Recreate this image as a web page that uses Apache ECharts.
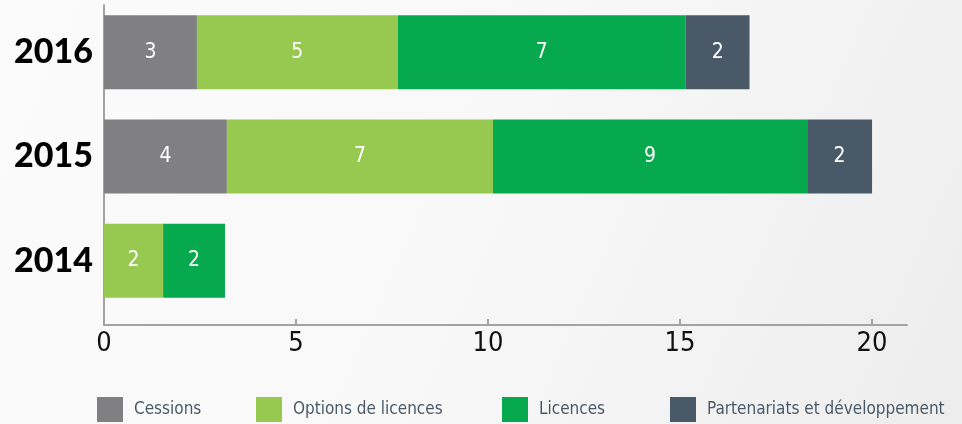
<!DOCTYPE html>
<html>
<head>
<meta charset="utf-8">
<script src="https://cdn.jsdelivr.net/npm/echarts@6/dist/echarts.min.js"></script>
<style>
  html, body { margin: 0; padding: 0; }
  #main { width: 962px; height: 424px; }
</style>
</head>
<body>
<div id="main"></div>
<script>
// années, de haut en bas
const years = ['2016', '2015', '2014'];
const seriesNames = ['Cessions', 'Options de licences', 'Licences', 'Partenariats et développement'];
const colors = ['#808083', '#97c950', '#06a94d', '#4a5968'];

// longueur des segments telle que dessinée
const cessions = [2.42, 3.2, '-'];
const options = [5.23, 6.93, 1.54];
const licences = [7.5, 8.18, 1.61];
const partenariats = [1.66, 1.69, '-'];

// valeurs affichées dans les barres
const cessionsLabels = [3, 4, null];
const optionsLabels = [5, 7, 2];
const licencesLabels = [7, 9, 2];
const partenariatsLabels = [2, 2, null];

const xTicks = [0, 5, 10, 15, 20];
const legendLeft = [97, 256, 502, 670];

const values = [cessions, options, licences, partenariats];
const labels = [cessionsLabels, optionsLabels, licencesLabels, partenariatsLabels];

let myChart = echarts.init(document.getElementById('main'));

const font = "'DejaVu Sans Condensed', 'Roboto Condensed', Roboto, sans-serif";
const xMax = 20.91;

myChart.setOption({
  backgroundColor: new echarts.graphic.LinearGradient(0, 0, 1, 1, [
    { offset: 0, color: '#fbfbfb' },
    { offset: 0.5, color: '#f8f8f8' },
    { offset: 1, color: '#ededed' }
  ]),
  grid: [
    { left: 104, top: -9, width: 803, height: 322 },
    { left: 104, top: 5, width: 803, height: 320 }
  ],
  legend: seriesNames.map((name, i) => ({
    data: [name],
    left: legendLeft[i],
    top: 397,
    padding: 0,
    itemWidth: 26,
    itemHeight: 25,
    itemGap: 0,
    textStyle: { color: '#4a5968', fontSize: 17, fontFamily: font, padding: [0, 0, 0, 6] },
    selectedMode: false,
    icon: 'rect'
  })),
  xAxis: [
    { gridIndex: 0, type: 'value', min: 0, max: xMax, show: false },
    {
      gridIndex: 1, type: 'value', min: 0, max: xMax, interval: 5,
      axisLine: { show: true, lineStyle: { color: '#a3a3a3', width: 2 } },
      axisTick: { show: true, inside: true, length: 6, customValues: [5, 10, 15, 20],
        lineStyle: { color: '#a3a3a3', width: 2 } },
      axisLabel: { customValues: xTicks, color: '#111', fontSize: 27, fontFamily: font, margin: 5 },
      splitLine: { show: false }
    }
  ],
  yAxis: [
    {
      gridIndex: 0, type: 'category', data: years, inverse: true,
      axisLine: { show: false }, axisTick: { show: false },
      axisLabel: { color: '#000', fontSize: 34, fontWeight: 900, fontFamily: 'Lato, sans-serif', margin: 11 }
    },
    {
      gridIndex: 1, type: 'value', min: 0, max: 1,
      axisLine: { show: true, lineStyle: { color: '#a3a3a3', width: 2 } },
      axisTick: { show: false }, axisLabel: { show: false }, splitLine: { show: false }
    }
  ],
  series: seriesNames.map((name, i) => ({
    name: name,
    type: 'bar',
    stack: 'total',
    xAxisIndex: 0,
    yAxisIndex: 0,
    barWidth: 74,
    itemStyle: { color: colors[i] },
    label: {
      show: true,
      color: '#fff',
      fontSize: 21,
      fontFamily: font,
      formatter: p => labels[i][p.dataIndex] == null ? '' : String(labels[i][p.dataIndex])
    },
    data: values[i]
  }))
});
</script>
</body>
</html>
